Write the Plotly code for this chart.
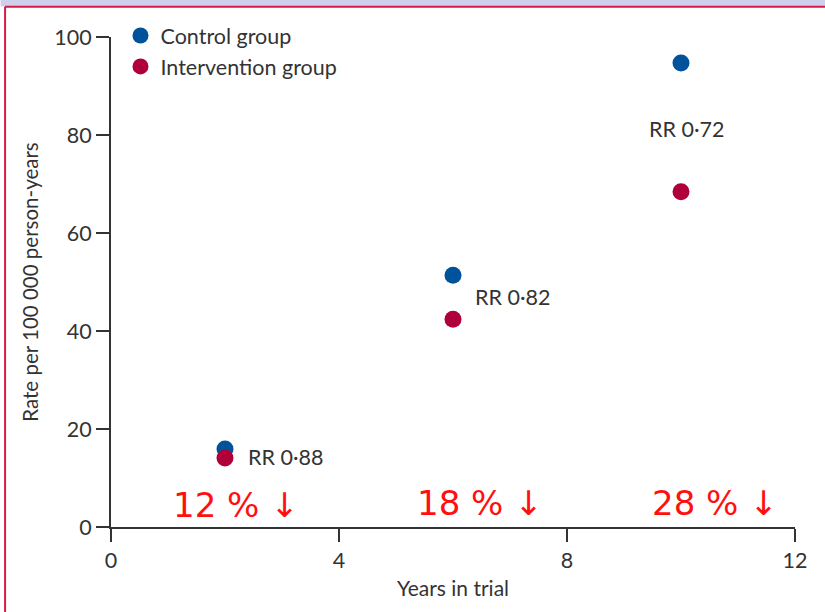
import plotly.graph_objects as go

years = [2, 6, 10]
control = [15.9, 51.4, 94.7]
intervention = [14.1, 42.4, 68.4]
rr_labels = ["RR 0·88", "RR 0·82", "RR 0·72"]
rr_x = [2.36, 6.35, 9.4]
rr_y = [14.3, 46.9, 81.2]
pct_labels = ["12 % ↓", "18 % ↓", "28 % ↓"]
pct_x = [2.2, 6.47, 10.6]
pct_y = [4.4, 4.8, 4.8]
x_ticks = [0, 4, 8, 12]
y_ticks = [0, 20, 40, 60, 80, 100]

BLUE = "#00529b"
RED = "#b0003a"
TXT = "#333333"
FONT = "Lato"

fig = go.Figure()
fig.add_trace(go.Scatter(x=years, y=control, mode="markers", name="Control group",
                         marker=dict(color=BLUE, size=17), cliponaxis=False))
fig.add_trace(go.Scatter(x=years, y=intervention, mode="markers", name="Intervention group",
                         marker=dict(color=RED, size=17), cliponaxis=False))

for t, x, y in zip(rr_labels, rr_x, rr_y):
    fig.add_annotation(x=x, y=y, text=t, showarrow=False, xanchor="left", yanchor="middle",
                       font=dict(family=FONT, size=21.5, color=TXT))
for t, x, y in zip(pct_labels, pct_x, pct_y):
    fig.add_annotation(x=x, y=y, text=t, showarrow=False, xanchor="center", yanchor="middle",
                       font=dict(family="DejaVu Sans", size=34, color="#ff1010"))

W, H = 825, 612
L, R, T, B = 110.5, 30, 37, 85
pw, ph = W - L - R, H - T - B

def px(x):
    return (x - L) / pw

def py(y):
    return (H - B - y) / ph

# decorative page frame
fig.add_shape(type="rect", xref="paper", yref="paper", x0=px(0), x1=px(W + 5), y0=py(6.5), y1=py(-5),
              fillcolor="#cfd0ec", line_width=0, layer="above")
fig.add_shape(type="line", xref="paper", yref="paper", x0=px(4.5), x1=px(W + 5), y0=py(6.8), y1=py(6.8),
              line=dict(color="#d81b4a", width=2), layer="above")
fig.add_shape(type="line", xref="paper", yref="paper", x0=px(4.5), x1=px(4.5), y0=py(6.8), y1=py(H + 5),
              line=dict(color="#d81b4a", width=2), layer="above")

axis_common = dict(showgrid=False, zeroline=False, showline=True, linecolor=TXT, linewidth=2,
                   ticks="outside", ticklen=13, tickwidth=2, tickcolor=TXT,
                   tickfont=dict(family=FONT, size=21.5, color=TXT))
fig.update_xaxes(range=[0, 12], tickvals=x_ticks, **axis_common,
                 title=dict(text="Years in trial", font=dict(family=FONT, size=21, color=TXT), standoff=10))
fig.update_yaxes(range=[0, 100], tickvals=y_ticks, **axis_common,
                 title=dict(text="Rate per 100 000 person-years", font=dict(family=FONT, size=20.5, color=TXT), standoff=10))

fig.update_layout(
    width=W, height=H,
    margin=dict(l=L, r=R, t=T, b=B, autoexpand=False),
    paper_bgcolor="white", plot_bgcolor="white",
    showlegend=True,
    legend=dict(x=px(120), y=py(15), xanchor="left", yanchor="top",
                font=dict(family=FONT, size=21.5, color=TXT), bgcolor="rgba(0,0,0,0)",
                tracegroupgap=0, itemsizing="trace"),
)

fig.write_html("out.html", config={"displayModeBar": False},
               post_script="document.body.style.margin='0';document.body.style.overflow='hidden';")
